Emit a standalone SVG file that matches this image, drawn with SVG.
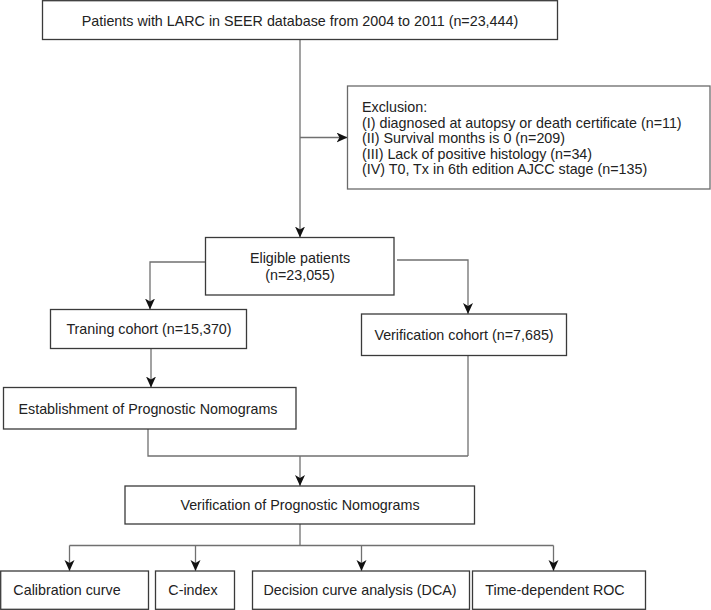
<svg xmlns="http://www.w3.org/2000/svg" width="711" height="610" viewBox="0 0 711 610">
  <style>
    .box { fill: #ffffff; stroke: #3a3a3a; stroke-width: 1.3; }
    .box2 { fill: #ffffff; stroke: #6a6a6a; stroke-width: 1.3; }
    .lbl { font-family: "Liberation Sans", Arial, Helvetica, sans-serif; font-size: 14.3px; fill: #222222; }
    .mid { text-anchor: middle; }
    .conn { fill: none; stroke: #707070; stroke-width: 1.3; }
  </style>
  <defs>
    <marker id="arr" markerUnits="userSpaceOnUse" markerWidth="14" markerHeight="12" refX="11" refY="5" orient="auto">
      <path d="M0,0 L11,5 L0,10 L3,5 Z" fill="#111111"/>
    </marker>
  </defs>
  <rect x="0" y="0" width="711" height="610" fill="#ffffff"/>

  <g id="connectors">
    <path class="conn" d="M300,39.5 V237.5" marker-end="url(#arr)"/>
    <path class="conn" d="M300,137.5 H347.5" marker-end="url(#arr)"/>
    <path class="conn" d="M205.5,262 H150 V309.5" marker-end="url(#arr)"/>
    <path class="conn" d="M397,260 H468 V314" marker-end="url(#arr)"/>
    <path class="conn" d="M151,348.5 V387.5" marker-end="url(#arr)"/>
    <path class="conn" d="M148,429 V456 H468"/>
    <path class="conn" d="M468,355.5 V456"/>
    <path class="conn" d="M300,456 V486" marker-end="url(#arr)"/>
    <path class="conn" d="M300,524 V545.5"/>
    <path class="conn" d="M69.5,545.5 H553.5"/>
    <path class="conn" d="M69.5,545.5 V571" marker-end="url(#arr)"/>
    <path class="conn" d="M195.5,545.5 V571" marker-end="url(#arr)"/>
    <path class="conn" d="M361.5,545.5 V571" marker-end="url(#arr)"/>
    <path class="conn" d="M553.5,545.5 V571" marker-end="url(#arr)"/>
  </g>

  <g id="n-start">
    <rect class="box" x="42.5" y="0.7" width="515" height="38.8"/>
    <text class="lbl mid" x="300" y="25.5">Patients with LARC in SEER database from 2004 to 2011 (n=23,444)</text>
  </g>

  <g id="n-exclusion">
    <rect class="box2" x="347.5" y="86" width="362.5" height="103"/>
    <text class="lbl" x="362" y="112">Exclusion:</text>
    <text class="lbl" x="362" y="127.6">(I) diagnosed at autopsy or death certificate (n=11)</text>
    <text class="lbl" x="362" y="143.2">(II) Survival months is 0 (n=209)</text>
    <text class="lbl" x="362" y="158.8">(III) Lack of positive histology (n=34)</text>
    <text class="lbl" x="362" y="174.4">(IV) T0, Tx in 6th edition AJCC stage (n=135)</text>
  </g>

  <g id="n-eligible">
    <rect class="box" x="205.5" y="237.5" width="188.5" height="57.5"/>
    <text class="lbl mid" x="300" y="262.5">Eligible patients</text>
    <text class="lbl mid" x="300" y="279.5">(n=23,055)</text>
  </g>

  <g id="n-training">
    <rect class="box" x="50.5" y="309.5" width="196" height="39"/>
    <text class="lbl mid" x="149" y="334">Traning cohort (n=15,370)</text>
  </g>

  <g id="n-verification-cohort">
    <rect class="box" x="361.5" y="314" width="205" height="41.5"/>
    <text class="lbl mid" x="464" y="339.5">Verification cohort (n=7,685)</text>
  </g>

  <g id="n-establishment">
    <rect class="box" x="3.5" y="387.5" width="292.5" height="41.5"/>
    <text class="lbl mid" x="148" y="413.5">Establishment of Prognostic Nomograms</text>
  </g>

  <g id="n-verification-nomograms">
    <rect class="box" x="125" y="486" width="349.5" height="38"/>
    <text class="lbl mid" x="300" y="510">Verification of Prognostic Nomograms</text>
  </g>

  <g id="n-calibration">
    <rect class="box" x="0.7" y="571" width="147.8" height="38.3"/>
    <text class="lbl mid" x="67" y="595">Calibration curve</text>
  </g>

  <g id="n-cindex">
    <rect class="box" x="155.5" y="571" width="79" height="38.3"/>
    <text class="lbl mid" x="193" y="595">C-index</text>
  </g>

  <g id="n-dca">
    <rect class="box" x="252.5" y="571" width="217" height="38.3"/>
    <text class="lbl mid" x="360" y="595">Decision curve analysis (DCA)</text>
  </g>

  <g id="n-roc">
    <rect class="box" x="472.5" y="571" width="173" height="38.3"/>
    <text class="lbl mid" x="555" y="595">Time-dependent ROC</text>
  </g>
</svg>
